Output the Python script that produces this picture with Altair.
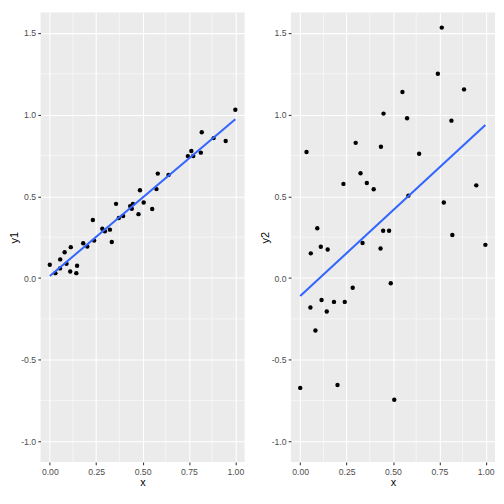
import altair as alt
import pandas as pd

# ---- data ----
x1 = [0.000, 0.030, 0.055, 0.056, 0.080, 0.090, 0.110, 0.113, 0.143, 0.147,
      0.180, 0.202, 0.232, 0.239, 0.283, 0.297, 0.324, 0.334, 0.357, 0.372,
      0.395, 0.433, 0.442, 0.448, 0.478, 0.486, 0.506, 0.552, 0.575, 0.582,
      0.640, 0.744, 0.763, 0.773, 0.814, 0.819, 0.883, 0.948, 1.000]
y1 = [0.081, 0.030, 0.059, 0.114, 0.158, 0.087, 0.040, 0.189, 0.030, 0.075,
      0.213, 0.193, 0.355, 0.229, 0.302, 0.286, 0.296, 0.221, 0.454, 0.367,
      0.380, 0.440, 0.424, 0.454, 0.391, 0.537, 0.462, 0.422, 0.544, 0.639,
      0.631, 0.746, 0.777, 0.747, 0.767, 0.892, 0.856, 0.838, 1.030]

# the last pair lies below the visible range (clipped, but used by the fit)
x2 = [0.000, 0.034, 0.055, 0.057, 0.082, 0.092, 0.111, 0.115, 0.143, 0.148,
      0.182, 0.201, 0.233, 0.240, 0.283, 0.299, 0.325, 0.336, 0.359, 0.396,
      0.433, 0.435, 0.447, 0.449, 0.479, 0.488, 0.507, 0.551, 0.576, 0.583,
      0.641, 0.742, 0.763, 0.774, 0.815, 0.820, 0.883, 0.949, 0.998, 0.372]
y2 = [-0.672, 0.771, -0.180, 0.151, -0.321, 0.305, 0.191, -0.134, -0.205, 0.175,
      -0.146, -0.654, 0.576, -0.146, -0.059, 0.827, 0.641, 0.214, 0.581, 0.543,
      0.181, 0.803, 0.289, 1.006, 0.289, -0.032, -0.744, 1.138, 0.978, 0.504,
      0.760, 1.250, 1.532, 0.462, 0.963, 0.263, 1.154, 0.567, 0.203, -1.230]

x_ticks = [0.0, 0.25, 0.5, 0.75, 1.0]
x_minor = [0.125, 0.375, 0.625, 0.875]
y_ticks = [-1.0, -0.5, 0.0, 0.5, 1.0, 1.5]
y_minor = [-0.75, -0.25, 0.25, 0.75, 1.25]

x_domain = [-0.05, 1.05]
y_domain = [-1.125, 1.625]

W, H = 207, 456


def panel(xs, ys, ytitle):
    df = pd.DataFrame({"x": xs, "y": ys})
    xscale = alt.Scale(domain=x_domain, nice=False, zero=False)
    yscale = alt.Scale(domain=y_domain, nice=False, zero=False)
    xaxis = alt.Axis(values=x_ticks, format=".2f", title="x", labelFlush=False,
                     labelOverlap=False, labelPadding=2.5, titlePadding=1)
    yaxis = alt.Axis(values=y_ticks, title=ytitle, labelOverlap=False,
                     labelPadding=2.2, titlePadding=1,
                     labelExpr="datum.value < 0 ? '-' + format(-datum.value, '.1f') : format(datum.value, '.1f')")
    xenc = alt.X("x:Q", scale=xscale, axis=xaxis)
    yenc = alt.Y("y:Q", scale=yscale, axis=yaxis)

    mx = alt.Chart(pd.DataFrame({"x": x_minor})).mark_rule(
        color="white", strokeWidth=0.55).encode(x=xenc)
    my = alt.Chart(pd.DataFrame({"y": y_minor})).mark_rule(
        color="white", strokeWidth=0.55).encode(y=yenc)
    pts = alt.Chart(df).mark_circle(color="black", size=20, opacity=1,
                                    clip=True).encode(x=xenc, y=yenc)
    line = alt.Chart(df).transform_regression("x", "y").mark_line(
        color="#3366FF", strokeWidth=2.1).encode(x=xenc, y=yenc)
    return alt.layer(mx, my, pts, line).properties(width=W, height=H)


chart = alt.hconcat(
    panel(x1, y1, "y1"), panel(x2, y2, "y2"), spacing=13, padding=0
).configure_view(
    fill="#EBEBEB", strokeWidth=0
).configure_axis(
    domain=False,
    grid=True,
    gridColor="white",
    gridWidth=1.07,
    tickColor="#333333",
    tickWidth=1.07,
    tickSize=2.75,
    labelColor="#4D4D4D",
    labelFont="Liberation Sans",
    labelFontSize=8.8,
    titleFont="Liberation Sans",
    titleFontSize=11,
    titleFontWeight="normal",
    titleColor="black",
)

chart.save("out.html", embed_options={"renderer": "svg", "actions": False})
